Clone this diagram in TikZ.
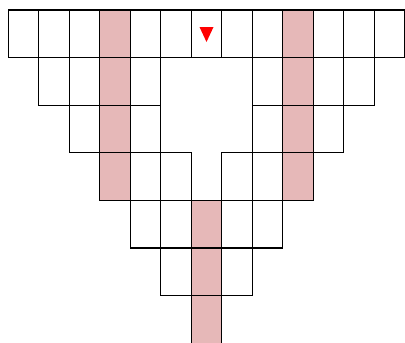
\documentclass[tikz,border=0pt]{standalone}
\definecolor{pinkc}{RGB}{230,184,184}
\begin{document}
\begin{tikzpicture}[x=1pt,y=-1pt,
  cell/.style={draw=black,line width=1.1pt},
  hl/.style={fill=pinkc}]
\useasboundingbox (0,0) rectangle (405,343);
\def\cw{30.5}\def\ch{47.6}\def\xo{8.3}\def\yo{10}
% pink fills
\foreach \c/\r in {3/0,3/1,3/2,3/3,9/0,9/1,9/2,9/3,6/4,6/5,6/6}
  \fill[hl] ({\xo+\c*\cw},{\yo+\r*\ch}) rectangle ++(\cw,\ch);
% cell borders
\foreach \c/\r in {0/0,1/0,2/0,3/0,4/0,5/0,6/0,7/0,8/0,9/0,10/0,11/0,12/0,
  1/1,2/1,3/1,4/1,8/1,9/1,10/1,11/1,
  2/2,3/2,4/2,8/2,9/2,10/2,
  3/3,4/3,5/3,7/3,8/3,9/3,
  4/4,5/4,6/4,7/4,8/4,
  5/5,6/5,7/5,
  6/6}
  \draw[cell] ({\xo+\c*\cw},{\yo+\r*\ch}) rectangle ++(\cw,\ch);
% red marker
\fill[red] (199.5,27) -- (213.5,27) -- (206.5,42) -- cycle;
\end{tikzpicture}
\end{document}
